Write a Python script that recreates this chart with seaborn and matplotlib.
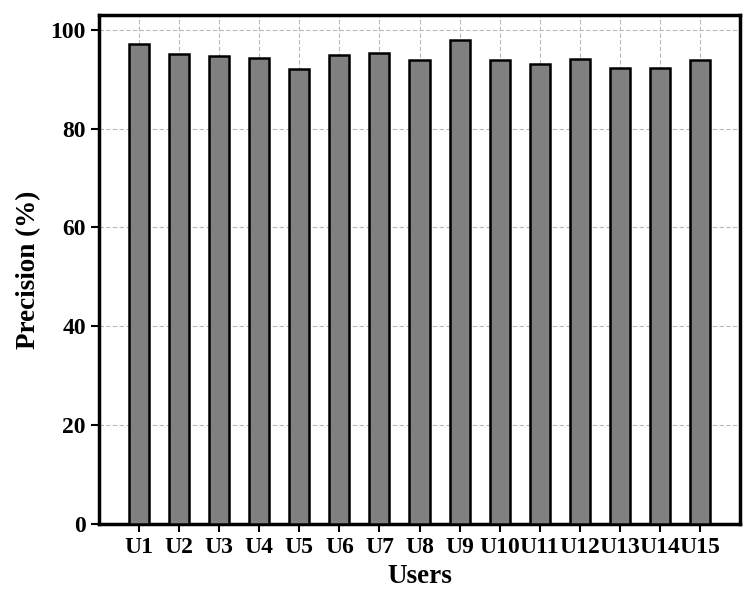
import matplotlib
matplotlib.use("Agg")
import matplotlib.pyplot as plt
import seaborn as sns
import pandas as pd

users = ["U1", "U2", "U3", "U4", "U5", "U6", "U7", "U8", "U9", "U10",
         "U11", "U12", "U13", "U14", "U15"]
precision = [97.2, 95.2, 94.7, 94.3, 92.1, 94.9, 95.3, 93.9, 97.9, 93.8,
             93.0, 94.0, 92.2, 92.2, 93.8]
yticks = [0, 20, 40, 60, 80, 100]

sns.set_theme(style="white")
plt.rcParams['font.family'] = ['Liberation Serif', 'DejaVu Serif']
plt.rcParams['font.weight'] = 'bold'

df = pd.DataFrame({"Users": users, "Precision": precision})

fig = plt.figure(figsize=(7.56, 6.10), dpi=100)
ax = fig.add_axes([99/756, 1 - 524/610, (740-99)/756, (524-15)/610])
sns.barplot(data=df, x="Users", y="Precision", ax=ax, color="#808080",
            saturation=1, width=0.5, edgecolor="black", linewidth=1.8, zorder=3)
ax.set_xlim(-1, 15)
ax.set_ylim(0, 103)
ax.set_yticks(yticks)
ax.grid(True, linestyle=(0, (4, 2)), color="#bbbbbb", linewidth=0.8, zorder=0)
ax.set_axisbelow(True)
for s in ax.spines.values():
    s.set_linewidth(2.5)
    s.set_color("black")
ax.tick_params(axis="both", direction="out", length=6, width=1.5,
               labelsize=17, bottom=True, left=True, colors="black")
for lab in ax.get_xticklabels() + ax.get_yticklabels():
    lab.set_fontweight("bold")
ax.set_xlabel("Users", fontsize=19.5, fontweight="bold", color="black", labelpad=4)
ax.set_ylabel("Precision (%)", fontsize=19.5, fontweight="bold", color="black", labelpad=7)
fig.savefig("out.png", dpi=100)
